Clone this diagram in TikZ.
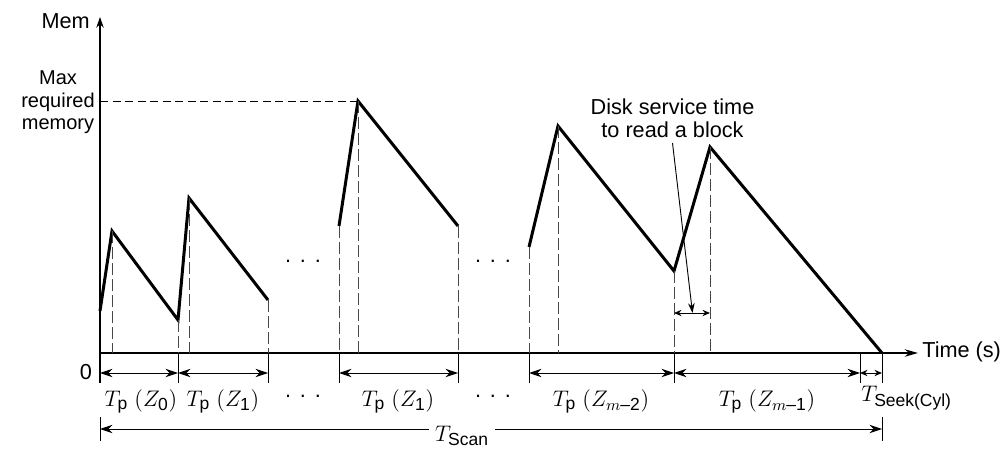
\documentclass[tikz,border=0pt]{standalone}
\usepackage{fix-cm}
\usepackage{amsmath}
\usepackage{fontspec}
\setmainfont{Liberation Sans}
\usetikzlibrary{arrows.meta}

% upright sans subscript text
\newcommand\ssub[1]{\mbox{\fontsize{10.5}{12}\selectfont #1}}
% period label T_p(Z_i)
\newcommand\tpz[1]{$T_{\ssub{p}}\;(Z_{#1})$}

\tikzset{
  saw/.style={line width=1.8pt, line join=miter, line cap=butt},
  guide/.style={line width=0.55pt, draw=black!72, dash pattern=on 7pt off 2.6pt},
  hguide/.style={line width=0.55pt, dash pattern=on 5pt off 2.5pt},
  tickline/.style={line width=0.55pt},
  axisline/.style={line width=0.75pt},
  dim/.style={line width=0.55pt,
    {Stealth[length=7.5pt,width=5pt]}-{Stealth[length=7.5pt,width=5pt]}},
  dimsmall/.style={line width=0.55pt,
    {Stealth[length=4.5pt,width=3.8pt]}-{Stealth[length=4.5pt,width=3.8pt]}},
  lbl/.style={inner sep=0pt},
  mlbl/.style={inner sep=0pt, font=\fontsize{13.5}{15}\selectfont},
  dots/.style={inner sep=0pt, anchor=base},
}

\begin{document}
\begin{tikzpicture}[x=0.6pt, y=-0.6pt, font=\fontsize{13}{13.6}\selectfont]
\useasboundingbox (0,0) rectangle (1002,455);

% ---- axes ----
\coordinate (O) at (100,353);
\coordinate (ybot) at (100,383);
\coordinate (ytop) at (100,17);
\coordinate (xend) at (918,353);
\draw[axisline, -{Stealth[length=6.5pt,width=4.5pt]}] (ybot) -- (ytop);
\draw[axisline, -{Stealth[length=8pt,width=4.5pt]}] (O) -- (xend);

\node[lbl, anchor=base east] (mem) at (90,29) {Mem};
\node[lbl, anchor=base west] (time) at (922,357) {Time (s)};
\node[lbl, anchor=base] (zero) at (86,380) {0};
\node[align=center, inner sep=0pt, font=\fontsize{12}{13.4}\selectfont] (maxmem) at (58,102.5) {Max\\required\\memory};

% ---- reference points on the time axis ----
\foreach \x in {100,112,178,189,268,339,358,458,529,558,674,710,860,882} {
  \coordinate (f\x) at (\x,353);
  \coordinate (g\x) at (\x,383);
  \coordinate (d\x) at (\x,373);
}

% ---- memory curve, first group ----
\coordinate (a0) at (100,311);
\coordinate (a1) at (112,231);
\coordinate (a2) at (178,320);
\coordinate (a3) at (189,198);
\coordinate (a4) at (268,300);
\draw[saw] (a0) -- (a1) -- (a2) -- (a3) -- (a4);

% ---- memory curve, middle group ----
\coordinate (b0) at (339,226);
\coordinate (b1) at (358,101);
\coordinate (b2) at (458,226);
\draw[saw] (b0) -- (b1) -- (b2);

% ---- memory curve, last group ----
\coordinate (c0) at (529,247);
\coordinate (c1) at (558,126);
\coordinate (c2) at (674,271);
\coordinate (c3) at (710,147);
\coordinate (c4) at (882,353);
\draw[saw] (c0) -- (c1) -- (c2) -- (c3) -- (c4);

% ---- maximum level ----
\coordinate (ymax) at (100,101);
\draw[hguide] (ymax) -- (b1);

% ---- dashed drop lines ----
\draw[guide] (a1) -- (f112);
\draw[guide] (a2) -- (f178);
\draw[guide] (a3) -- (f189);
\draw[guide] (a4) -- (f268);
\draw[guide] (b0) -- (f339);
\draw[guide] (b1) -- (f358);
\draw[guide] (b2) -- (f458);
\draw[guide] (c0) -- (f529);
\draw[guide] (c1) -- (f558);
\draw[guide] (c2) -- (f674);
\draw[guide] (c3) -- (f710);

% ---- ticks below the axis ----
\foreach \x in {178,268,339,458,529,674,860,882} {
  \draw[tickline] (f\x) -- (g\x);
}

% ---- period dimensions ----
\draw[dim] (d100) -- (d178);
\draw[dim] (d178) -- (d268);
\draw[dim] (d339) -- (d458);
\draw[dim] (d529) -- (d674);
\draw[dim] (d674) -- (d860);
\draw[dimsmall] (d860) -- (d882);

\node[mlbl, anchor=base] (tp0) at (141,406) {\tpz{\ssub{0}}};
\node[mlbl, anchor=base] (tp1) at (223,406) {\tpz{\ssub{1}}};
\node[mlbl, anchor=base] (tp1b) at (398,406) {\tpz{\ssub{1}}};
\node[mlbl, anchor=base] (tpm2) at (601,406) {\tpz{m\ssub{–2}}};
\node[mlbl, anchor=base] (tpm1) at (767,406) {\tpz{m\ssub{–1}}};
\node[mlbl, anchor=base west] (tseek) at (861,402) {$T_{\ssub{Seek(Cyl)}}$};

% ---- ellipses ----
\node[dots] (dotsA) at (303,263) {.\hspace{5.3pt}.\hspace{5.3pt}.};
\node[dots] (dotsB) at (493,263) {.\hspace{5.3pt}.\hspace{5.3pt}.};
\node[dots] (dotsC) at (303,397) {.\hspace{5.3pt}.\hspace{5.3pt}.};
\node[dots] (dotsD) at (493,397) {.\hspace{5.3pt}.\hspace{5.3pt}.};

% ---- disk service time ----
\coordinate (sv0) at (674,313);
\coordinate (sv1) at (710,313);
\draw[dimsmall] (sv0) -- (sv1);
\node[align=center, inner sep=0pt, anchor=south] (disk) at (672.5,138)
  {Disk service time\\to read a block};
\coordinate (svtip) at (692.5,313);
\draw[line width=0.55pt, -{Stealth[length=6pt,width=4pt]}] ([yshift=-3pt]disk.south) -- (svtip);

% ---- total scan time ----
\coordinate (s100) at (100,429);
\coordinate (s882) at (882,429);
\coordinate (s100t) at (100,417);
\coordinate (s100b) at (100,441);
\coordinate (s882t) at (882,417);
\coordinate (s882b) at (882,441);
\draw[tickline] (s100t) -- (s100b);
\draw[tickline] (s882t) -- (s882b);
\draw[dim] (s100) -- (s882);
\node[mlbl, anchor=base, fill=white, inner xsep=3.5pt, inner ysep=1.5pt] (tscan) at (462,441) {$T_{\ssub{Scan}}$};
\end{tikzpicture}
\end{document}
